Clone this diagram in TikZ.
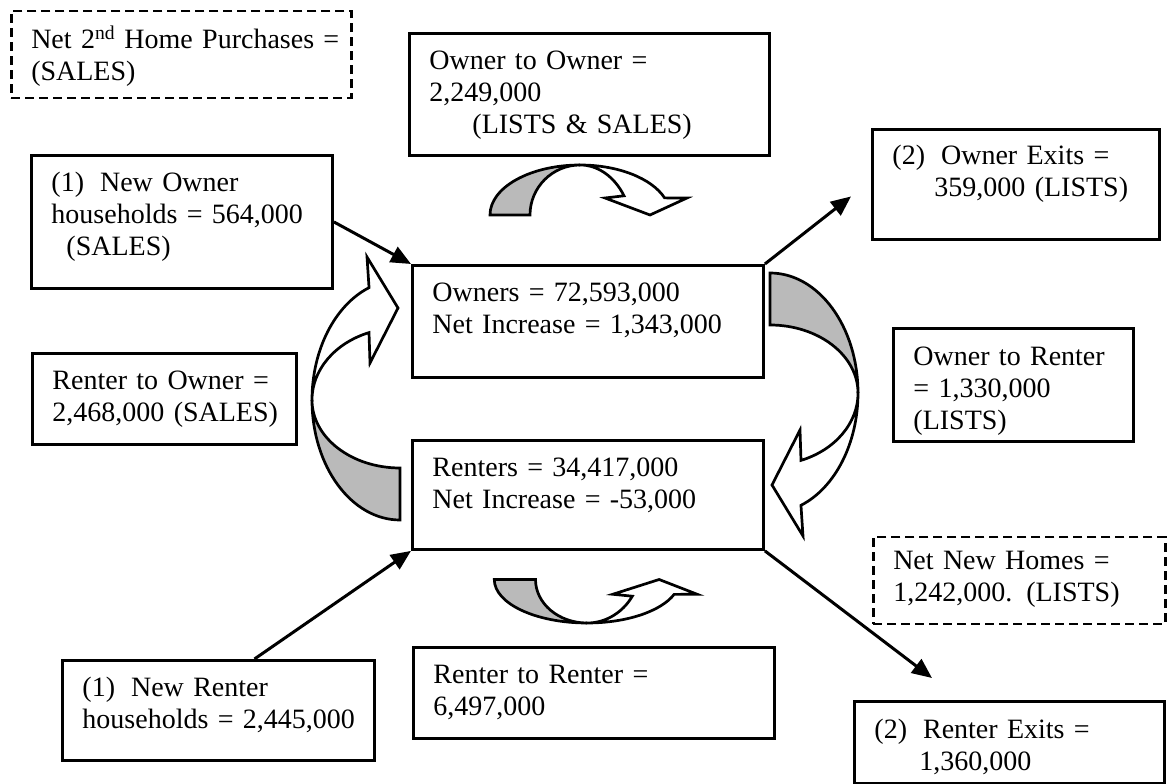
\documentclass[tikz,border=0pt]{standalone}
\usepackage{fontspec}
\setmainfont{Liberation Serif}
\usetikzlibrary{arrows.meta,calc}

% twisted ribbon arrows, drawn round the twist point (0,0)
\newcommand{\sideturn}{%
  \path[backband] (0,0) arc[start angle=180,end angle=270,x radius=88,y radius=120]
    -- (88,-68) arc[start angle=270,end angle=180,x radius=88,y radius=68] -- cycle;
  \path[frontband] (0,0) arc[start angle=180,end angle=110.6,x radius=88,y radius=120]
    -- (55,143) -- (86,92) -- (58,37) -- (57,67.4)
    arc[start angle=110.6,end angle=180,x radius=88,y radius=72] -- cycle;}
\newcommand{\topturn}{%
  \path[backband] (-90,-50) arc[start angle=180,end angle=90,x radius=90,y radius=50]
    arc[start angle=90,end angle=180,radius=50] -- cycle;
  \path[frontband] (0,0) arc[start angle=90,end angle=20,x radius=90,y radius=50]
    -- (107,-33) -- (70,-50) -- (25,-33) -- (44,-30.8)
    arc[start angle=32.2,end angle=90,x radius=52,y radius=66] -- cycle;}

\begin{document}
\begin{tikzpicture}[x=1pt,y=1pt,font=\fontsize{28}{32}\selectfont,
  box/.style={draw,line width=2.9pt,anchor=north west,align=left,inner xsep=20pt,inner ysep=0pt},
  dbox/.style={box,line width=2.5pt,dash pattern=on 9pt off 5pt},
  conn/.style={-{Triangle[length=20pt,width=17pt]},line width=3pt},
  frontband/.style={draw,line width=2.7pt,fill=white},
  backband/.style={frontband,fill=black!27}]
\fill[white] (0,0) rectangle (1167,784);
\useasboundingbox (0,0) rectangle (1167,784);

% boxes
\node[dbox,text width=300pt,text height=37pt,text depth=50pt] (second) at (10,774)
 {\mbox{Net 2\textsuperscript{nd} Home Purchases =}\\(SALES)};
\node[box,text width=320pt,text height=36pt,text depth=86pt] (owntoown) at (408,752)
 {Owner to Owner =\\2,249,000\\\hspace*{43pt}(LISTS \& SALES)};
\node[box,text width=261pt,text height=36pt,text depth=97pt] (newown) at (30,630)
 {(1)\hspace{16pt}New Owner\\households = 564,000\\\hspace*{15pt}(SALES)};
\node[box,text width=247pt,text height=35pt,text depth=75pt] (ownexit) at (871,656)
 {(2)\hspace{16pt}Owner Exits =\\\hspace*{42pt}359,000 (LISTS)};
\node[box,text width=311pt,text height=36pt,text depth=76pt] (owners) at (411,520)
 {Owners = 72,593,000\\Net Increase = 1,343,000};
\node[box,text width=224pt,text height=36pt,text depth=55pt] (renttoown) at (31,432)
 {Renter to Owner =\\\mbox{2,468,000 (SALES)}};
\node[box,text width=200pt,text height=37pt,text depth=76pt] (owntorent) at (892,457)
 {Owner to Renter\\= 1,330,000\\(LISTS)};
\node[box,text width=311pt,text height=36pt,text depth=73pt] (renters) at (411,345)
 {Renters = 34,417,000\\Net Increase = -53,000};
\node[dbox,text width=252pt,text height=32pt,text depth=55pt] (newhomes) at (872,248)
 {Net New Homes =\\1,242,000. (LISTS)};
\node[box,text width=321pt,text height=36pt,text depth=55pt] (renttorent) at (412,138)
 {Renter to Renter =\\6,497,000};
\node[box,text width=272pt,text height=36pt,text depth=64pt] (newrent) at (61,125)
 {(1)\hspace{16pt}New Renter\\\mbox{households = 2,445,000}};
\node[box,text width=270pt,text height=37pt,text depth=45pt] (rentexit) at (853,84)
 {(2)\hspace{16pt}Renter Exits =\\\hspace*{45pt}1,360,000};

% ribbon arrows
\begin{scope}[shift={(312,384)}] \sideturn \end{scope}
\begin{scope}[shift={(858,391)},rotate=180] \sideturn \end{scope}
\begin{scope}[shift={(580,619)}] \topturn \end{scope}
\begin{scope}[shift={(587,161)},xscale=1.03,yscale=-0.87] \topturn \end{scope}

% flows in and out
\coordinate (oexittip) at ($(ownexit.west)+(-20,-12)$);
\coordinate (rexittip) at ($(rentexit.north west)+(79,22)$);
\draw[conn] (newown.east) -- (owners.north west);
\draw[conn] (owners.north east) -- (oexittip);
\draw[conn] (newrent.55) -- (renters.south west);
\draw[conn] (renters.south east) -- (rexittip);
\end{tikzpicture}
\end{document}
